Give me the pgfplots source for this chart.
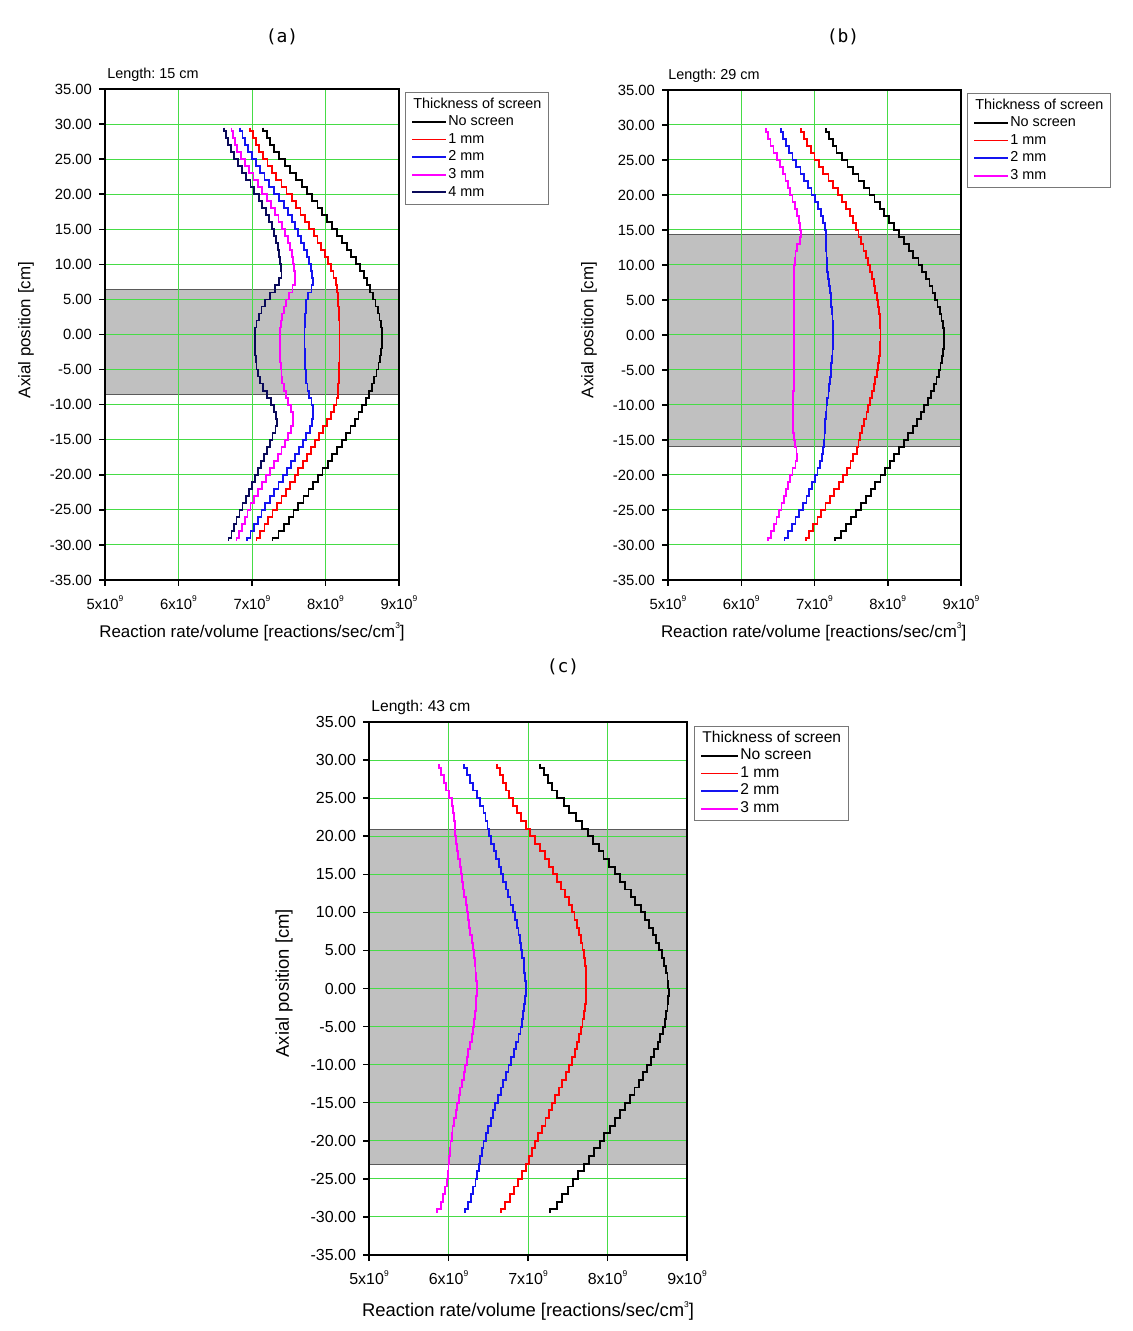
\documentclass[border=0pt]{standalone}
\usepackage{pgfplots}
\pgfplotsset{compat=1.18}
\usepackage{fontspec}
\setmainfont{Liberation Sans}
\newfontfamily\monofont{DejaVu Sans Mono}
\frenchspacing

\definecolor{cblack}{RGB}{0,0,0}
\definecolor{cred}{RGB}{255,0,0}
\definecolor{cblue}{RGB}{20,20,240}
\definecolor{cmag}{RGB}{255,0,255}
\definecolor{cnavy}{RGB}{10,10,90}
\definecolor{gridgreen}{RGB}{70,220,70}
\definecolor{bandgray}{RGB}{192,192,192}
\definecolor{banddark}{RGB}{90,90,90}
\definecolor{legendgray}{RGB}{120,120,120}

% values of each curve, one per 1 cm bin, from y=29.5 (top) to y=-29.5 (bottom)
\newcommand\buildstairs[2]{%
  \gdef\stairtmp{}%
  \foreach \v [count=\i from 0] in {#2}{%
    \ifnum\i=0
      \xdef\stairtmp{(\v,29.5)}%
    \else
      \pgfmathsetmacro\yb{30-\i}%
      \xdef\stairtmp{\stairtmp (\prevv,\yb) (\v,\yb)}%
    \fi
    \xdef\prevv{\v}%
  }%
  \xdef#1{\stairtmp (\prevv,-29.5)}%
}
\newcommand\stairplot[2]{\edef\tmp{\noexpand\addplot[#1] coordinates {#2};}\tmp}

% no screen (all panels)
\buildstairs{\blackS}{7.155,7.20,7.25,7.30,7.37,7.45,7.52,7.60,7.68,7.75,
7.82,7.89,7.95,8.02,8.09,8.155,8.22,8.29,8.35,8.42,
8.47,8.52,8.57,8.61,8.65,8.68,8.71,8.735,8.755,8.765,
8.77,8.765,8.755,8.74,8.72,8.695,8.665,8.63,8.59,8.55,
8.50,8.45,8.40,8.34,8.28,8.22,8.155,8.09,8.03,7.96,
7.90,7.83,7.77,7.70,7.63,7.565,7.50,7.43,7.36,7.28}
% panel (a)
\buildstairs{\redA}{6.97,7.01,7.05,7.10,7.15,7.21,7.27,7.33,7.40,7.47,
7.54,7.60,7.66,7.72,7.78,7.84,7.89,7.94,7.99,8.03,
8.07,8.11,8.14,8.16,8.17,8.175,8.18,8.185,8.19,8.19,
8.19,8.19,8.19,8.19,8.185,8.18,8.18,8.175,8.17,8.15,
8.12,8.07,8.02,7.97,7.91,7.86,7.80,7.75,7.69,7.63,
7.58,7.52,7.46,7.40,7.34,7.28,7.22,7.17,7.11,7.06}
\buildstairs{\blueA}{6.84,6.87,6.91,6.95,7.00,7.05,7.11,7.17,7.23,7.30,
7.37,7.43,7.49,7.54,7.59,7.63,7.67,7.71,7.75,7.78,
7.80,7.82,7.83,7.81,7.76,7.74,7.73,7.72,7.72,7.715,
7.715,7.715,7.72,7.72,7.725,7.73,7.74,7.755,7.78,7.81,
7.825,7.83,7.82,7.79,7.74,7.69,7.64,7.59,7.53,7.48,
7.42,7.36,7.30,7.24,7.18,7.13,7.08,7.03,6.98,6.93}
\buildstairs{\magA}{6.72,6.745,6.77,6.80,6.85,6.90,6.96,7.02,7.08,7.14,
7.20,7.26,7.31,7.36,7.41,7.45,7.49,7.52,7.545,7.56,
7.575,7.585,7.58,7.55,7.50,7.46,7.43,7.41,7.39,7.385,
7.38,7.38,7.38,7.385,7.39,7.40,7.41,7.43,7.46,7.49,
7.53,7.56,7.56,7.53,7.49,7.45,7.40,7.35,7.30,7.25,
7.19,7.14,7.08,7.03,6.98,6.94,6.90,6.86,6.82,6.79}
\buildstairs{\navyA}{6.62,6.645,6.675,6.71,6.76,6.81,6.86,6.92,6.98,7.03,
7.09,7.14,7.19,7.23,7.27,7.30,7.33,7.35,7.37,7.385,
7.395,7.40,7.37,7.31,7.24,7.18,7.13,7.09,7.06,7.045,
7.04,7.04,7.045,7.05,7.06,7.08,7.11,7.15,7.20,7.26,
7.30,7.33,7.34,7.32,7.28,7.24,7.20,7.16,7.12,7.08,
7.04,7.00,6.96,6.92,6.87,6.83,6.79,6.755,6.72,6.68}
% panel (b)
\buildstairs{\redB}{6.82,6.86,6.90,6.95,7.00,7.06,7.12,7.19,7.25,7.32,
7.38,7.43,7.48,7.53,7.57,7.60,7.63,7.67,7.70,7.73,
7.76,7.785,7.81,7.83,7.85,7.865,7.88,7.89,7.895,7.90,
7.90,7.895,7.89,7.88,7.865,7.85,7.83,7.81,7.785,7.76,
7.735,7.71,7.68,7.65,7.625,7.60,7.575,7.53,7.49,7.44,
7.39,7.33,7.27,7.21,7.15,7.09,7.04,6.98,6.93,6.88}
\buildstairs{\blueB}{6.54,6.57,6.61,6.65,6.70,6.75,6.81,6.86,6.91,6.96,
7.01,7.05,7.09,7.12,7.14,7.155,7.16,7.16,7.165,7.17,
7.175,7.185,7.20,7.21,7.22,7.23,7.24,7.245,7.25,7.25,
7.25,7.25,7.245,7.24,7.23,7.22,7.21,7.20,7.19,7.175,
7.165,7.155,7.145,7.14,7.135,7.13,7.12,7.10,7.07,7.04,
7.01,6.97,6.93,6.89,6.84,6.79,6.74,6.69,6.64,6.59}
\buildstairs{\magB}{6.34,6.37,6.40,6.44,6.49,6.53,6.57,6.605,6.64,6.67,
6.70,6.73,6.76,6.785,6.80,6.815,6.80,6.76,6.74,6.73,
6.725,6.72,6.72,6.72,6.72,6.72,6.72,6.72,6.72,6.72,
6.72,6.72,6.72,6.72,6.72,6.715,6.715,6.715,6.71,6.71,
6.71,6.71,6.71,6.71,6.715,6.73,6.755,6.76,6.74,6.70,
6.67,6.64,6.61,6.58,6.55,6.52,6.48,6.45,6.41,6.36}
% panel (c)
\buildstairs{\redC}{6.61,6.645,6.68,6.72,6.76,6.81,6.86,6.91,6.97,7.03,
7.09,7.15,7.21,7.26,7.32,7.37,7.42,7.47,7.51,7.55,
7.585,7.615,7.64,7.665,7.685,7.70,7.715,7.725,7.73,7.73,
7.73,7.725,7.715,7.70,7.685,7.665,7.645,7.62,7.59,7.555,
7.515,7.475,7.43,7.385,7.34,7.30,7.26,7.22,7.175,7.13,
7.09,7.05,7.01,6.97,6.92,6.87,6.82,6.77,6.71,6.66}
\buildstairs{\blueC}{6.20,6.23,6.27,6.31,6.36,6.40,6.44,6.465,6.49,6.515,
6.54,6.57,6.60,6.63,6.66,6.69,6.72,6.75,6.78,6.81,
6.835,6.86,6.88,6.90,6.915,6.93,6.945,6.955,6.965,6.97,
6.97,6.965,6.955,6.94,6.925,6.905,6.88,6.85,6.82,6.79,
6.755,6.72,6.69,6.655,6.62,6.59,6.56,6.53,6.50,6.47,
6.44,6.42,6.40,6.38,6.36,6.34,6.31,6.28,6.25,6.21}
\buildstairs{\magC}{5.88,5.91,5.94,5.97,6.01,6.04,6.06,6.07,6.08,6.085,
6.095,6.11,6.125,6.14,6.155,6.17,6.185,6.20,6.215,6.23,
6.245,6.26,6.275,6.29,6.305,6.32,6.33,6.34,6.35,6.355,
6.355,6.35,6.345,6.335,6.32,6.305,6.29,6.27,6.25,6.23,
6.21,6.19,6.17,6.15,6.13,6.11,6.09,6.07,6.05,6.04,
6.025,6.015,6.005,6.00,5.995,5.98,5.96,5.93,5.90,5.86}

\newcommand\fticksA{\fontsize{7.4}{8.5}\selectfont}
\newcommand\flabelA{\fontsize{8.45}{10}\selectfont}
\newcommand\flegA{\fontsize{7.2}{8.5}\selectfont}
\newcommand\fticksC{\fontsize{8.0}{9.2}\selectfont}
\newcommand\flabelC{\fontsize{9.2}{11}\selectfont}
\newcommand\flegC{\fontsize{7.8}{9.2}\selectfont}
\newcommand\supsm[1]{\raisebox{0.95ex}{\fontsize{4.2}{4.5}\selectfont #1}}

\pgfplotsset{
  /pgf/number format/assume math mode=true,
  panel/.style={
    scale only axis, set layers,
    xmin=5, xmax=9, ymin=-35, ymax=35,
    xtick={5,6,7,8,9},
    xticklabels={5x10\supsm{9},6x10\supsm{9},7x10\supsm{9},8x10\supsm{9},9x10\supsm{9}},
    xticklabel style={yshift=-1.5pt},
    ytick={-35,-30,...,35},
    yticklabel style={/pgf/number format/.cd, fixed, fixed zerofill, precision=2},
    xtick pos=bottom, ytick pos=left,
    tick align=outside, major tick length=3pt,
    tick style={black, line width=0.75pt},
    axis line style={black, line width=1pt},
    grid=major,
    major grid style={draw=gridgreen, line width=0.5pt},
    xlabel={Reaction rate/volume [reactions/sec/cm\supsm{3}]},
    ylabel={Axial position [cm]},
    legend cell align=left,
    legend style={at={(1,1)}, anchor=north west, draw=legendgray, line width=0.5pt,
      fill=white, inner xsep=3pt, inner ysep=1.5pt, row sep=0pt,
      nodes={inner xsep=0.5pt, inner ysep=1pt, text height=5.3pt, text depth=1.5pt}},
  },
  fontsA/.style={
    tick label style={font=\fticksA},
    label style={font=\flabelA},
    legend style={font=\flegA},
    legend image code/.code={\draw[##1] (0pt,0pt) -- (17pt,0pt);},
  },
  fontsC/.style={
    tick label style={font=\fticksC},
    label style={font=\flabelC},
    legend style={font=\flegC},
    legend image code/.code={\draw[##1] (0pt,0pt) -- (18.5pt,0pt);},
  },
}

\begin{document}
\begin{tikzpicture}
\node[font=\monofont\fontsize{9}{10}\selectfont] at (141pt,-18.5pt) {(a)};
\node[font=\monofont\fontsize{9}{10}\selectfont] at (421.5pt,-18.5pt) {(b)};
\node[font=\monofont\fontsize{9}{10}\selectfont] at (281.5pt,-333.5pt) {(c)};

% ---------------- (a)
\begin{axis}[panel, fontsA, name=pa, at={(52.5pt,-44.5pt)}, anchor=north west,
  width=147pt, height=245.5pt,
  xlabel style={at={(axis description cs:0.5,-0.106)}, anchor=center},
  ylabel style={at={(axis description cs:-0.2687,0.509)}, anchor=center},
  legend style={xshift=3pt, yshift=-1.5pt}]
\addlegendimage{empty legend}\addlegendentry{\hspace*{-17.5pt}Thickness of screen}
\addplot[forget plot, on layer=axis background, fill=bandgray, draw=banddark, line width=0.5pt]
  coordinates {(5,6.35) (9,6.35) (9,-8.5) (5,-8.5) (5,6.35)};
\stairplot{cblack, line width=0.9pt}{\blackS}\addlegendentry{No screen}
\stairplot{cred, line width=0.9pt}{\redA}\addlegendentry{1 mm}
\stairplot{cblue, line width=0.9pt}{\blueA}\addlegendentry{2 mm}
\stairplot{cmag, line width=0.9pt}{\magA}\addlegendentry{3 mm}
\stairplot{cnavy, line width=0.9pt}{\navyA}\addlegendentry{4 mm}
\end{axis}
\node[anchor=base west, inner sep=0pt, font=\flegA] at ([xshift=1pt,yshift=5pt]pa.north west) {Length: 15 cm};

% ---------------- (b)
\begin{axis}[panel, fontsA, name=pb, at={(334pt,-45pt)}, anchor=north west,
  width=146.5pt, height=245pt,
  xlabel style={at={(axis description cs:0.497,-0.106)}, anchor=center},
  ylabel style={at={(axis description cs:-0.27,0.51)}, anchor=center},
  legend style={xshift=3pt, yshift=-1.5pt}]
\addlegendimage{empty legend}\addlegendentry{\hspace*{-17.5pt}Thickness of screen}
\addplot[forget plot, on layer=axis background, fill=bandgray, draw=banddark, line width=0.5pt]
  coordinates {(5,14.3) (9,14.3) (9,-16.0) (5,-16.0) (5,14.3)};
\stairplot{cblack, line width=0.9pt}{\blackS}\addlegendentry{No screen}
\stairplot{cred, line width=0.9pt}{\redB}\addlegendentry{1 mm}
\stairplot{cblue, line width=0.9pt}{\blueB}\addlegendentry{2 mm}
\stairplot{cmag, line width=0.9pt}{\magB}\addlegendentry{3 mm}
\end{axis}
\node[anchor=base west, inner sep=0pt, font=\flegA] at ([xshift=0pt,yshift=5pt]pb.north west) {Length: 29 cm};

% ---------------- (c)
\begin{axis}[panel, fontsC, name=pc, at={(184.5pt,-361pt)}, anchor=north west,
  width=159pt, height=266.5pt,
  xlabel style={at={(axis description cs:0.5,-0.105)}, anchor=center},
  ylabel style={at={(axis description cs:-0.267,0.51)}, anchor=center},
  legend style={xshift=3.5pt, yshift=-2pt}]
\addlegendimage{empty legend}\addlegendentry{\hspace*{-19pt}Thickness of screen}
\addplot[forget plot, on layer=axis background, fill=bandgray, draw=banddark, line width=0.5pt]
  coordinates {(5,20.9) (9,20.9) (9,-23.1) (5,-23.1) (5,20.9)};
\stairplot{cblack, line width=0.95pt}{\blackS}\addlegendentry{No screen}
\stairplot{cred, line width=0.95pt}{\redC}\addlegendentry{1 mm}
\stairplot{cblue, line width=0.95pt}{\blueC}\addlegendentry{2 mm}
\stairplot{cmag, line width=0.95pt}{\magC}\addlegendentry{3 mm}
\end{axis}
\node[anchor=base west, inner sep=0pt, font=\flegC] at ([xshift=1pt,yshift=5.5pt]pc.north west) {Length: 43 cm};
\pgfresetboundingbox
\path[use as bounding box] (0pt,0pt) rectangle (566pt,-665.5pt);
\end{tikzpicture}
\end{document}
